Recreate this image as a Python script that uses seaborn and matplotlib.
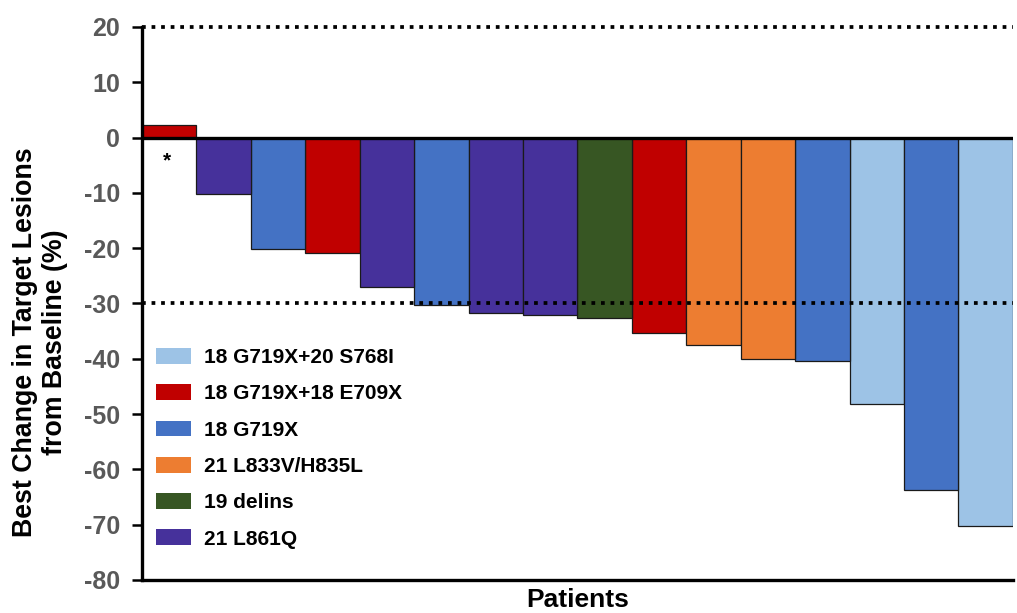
import pandas as pd
import seaborn as sns
import matplotlib.pyplot as plt

patients = list(range(1, 17))
best_change = [2.3, -10.2, -20.1, -20.8, -27.1, -30.3, -31.8, -32.1,
               -32.6, -35.4, -37.6, -40.1, -40.4, -48.2, -63.8, -70.2]
mutation = ["18 G719X+18 E709X", "21 L861Q", "18 G719X", "18 G719X+18 E709X",
            "21 L861Q", "18 G719X", "21 L861Q", "21 L861Q",
            "19 delins", "18 G719X+18 E709X", "21 L833V/H835L", "21 L833V/H835L",
            "18 G719X", "18 G719X+20 S768I", "18 G719X", "18 G719X+20 S768I"]
legend_order = ["18 G719X+20 S768I", "18 G719X+18 E709X", "18 G719X",
                "21 L833V/H835L", "19 delins", "21 L861Q"]
colors = ["#9DC3E6", "#C00000", "#4472C4", "#ED7D31", "#375623", "#46319B"]
y_ticks = list(range(-80, 21, 10))

df = pd.DataFrame({"patient": patients, "change": best_change, "mutation": mutation})

sns.set_style("white")
plt.rcParams['font.family'] = ['Liberation Sans', 'DejaVu Sans']
plt.rcParams['font.weight'] = 'bold'
plt.rcParams['axes.unicode_minus'] = False

fig = plt.figure(figsize=(10.17, 6.13), dpi=100)
ax = fig.add_axes([0.1396, 0.054, 0.8564, 0.902])

sns.barplot(data=df, x="patient", y="change", hue="mutation", hue_order=legend_order,
            palette=dict(zip(legend_order, colors)), dodge=False, width=1,
            edgecolor="#1a1a1a", linewidth=0.9, saturation=1, ax=ax)

ax.set_xlim(-0.5, 15.5)
ax.set_ylim(-80, 20)
ax.set_yticks(y_ticks)
ax.set_xticks([])

ax.axhline(0, color="black", lw=2.4, zorder=5)
for ref in (20, -30):
    ax.axhline(ref, color="black", lw=2.7, linestyle=(0, (1, 1.55)), zorder=6, clip_on=False)

ax.text(-0.05, -4.2, "*", ha="center", va="center", fontsize=15, fontweight="bold", color="black")

for side in ("top", "right"):
    ax.spines[side].set_visible(False)
for side in ("left", "bottom"):
    ax.spines[side].set_linewidth(2.4)
    ax.spines[side].set_color("black")

ax.tick_params(axis="y", which="major", left=True, direction="out", length=7, width=1.8,
               labelsize=18, labelcolor="#595959", color="black", pad=9)
for lab in ax.get_yticklabels():
    lab.set_fontweight("bold")

ax.set_ylabel("Best Change in Target Lesions\nfrom Baseline (%)", fontsize=19.3,
              fontweight="bold", color="black", linespacing=1.2)
ax.yaxis.set_label_coords(-0.085, 0.43)
ax.set_xlabel("Patients", fontsize=19, fontweight="bold", color="black", labelpad=6)

handles, labels = ax.get_legend_handles_labels()
leg = ax.legend(handles, labels, loc="center left", bbox_to_anchor=(0.0, 0.238), frameon=False,
                prop={"size": 15, "weight": "bold"}, handlelength=1.7, handleheight=0.8,
                labelspacing=0.82, handletextpad=0.65, borderaxespad=0.25)
for t in leg.get_texts():
    t.set_color("black")
for h in leg.legend_handles:
    h.set_edgecolor("none")

fig.savefig("out.png", dpi=100)
